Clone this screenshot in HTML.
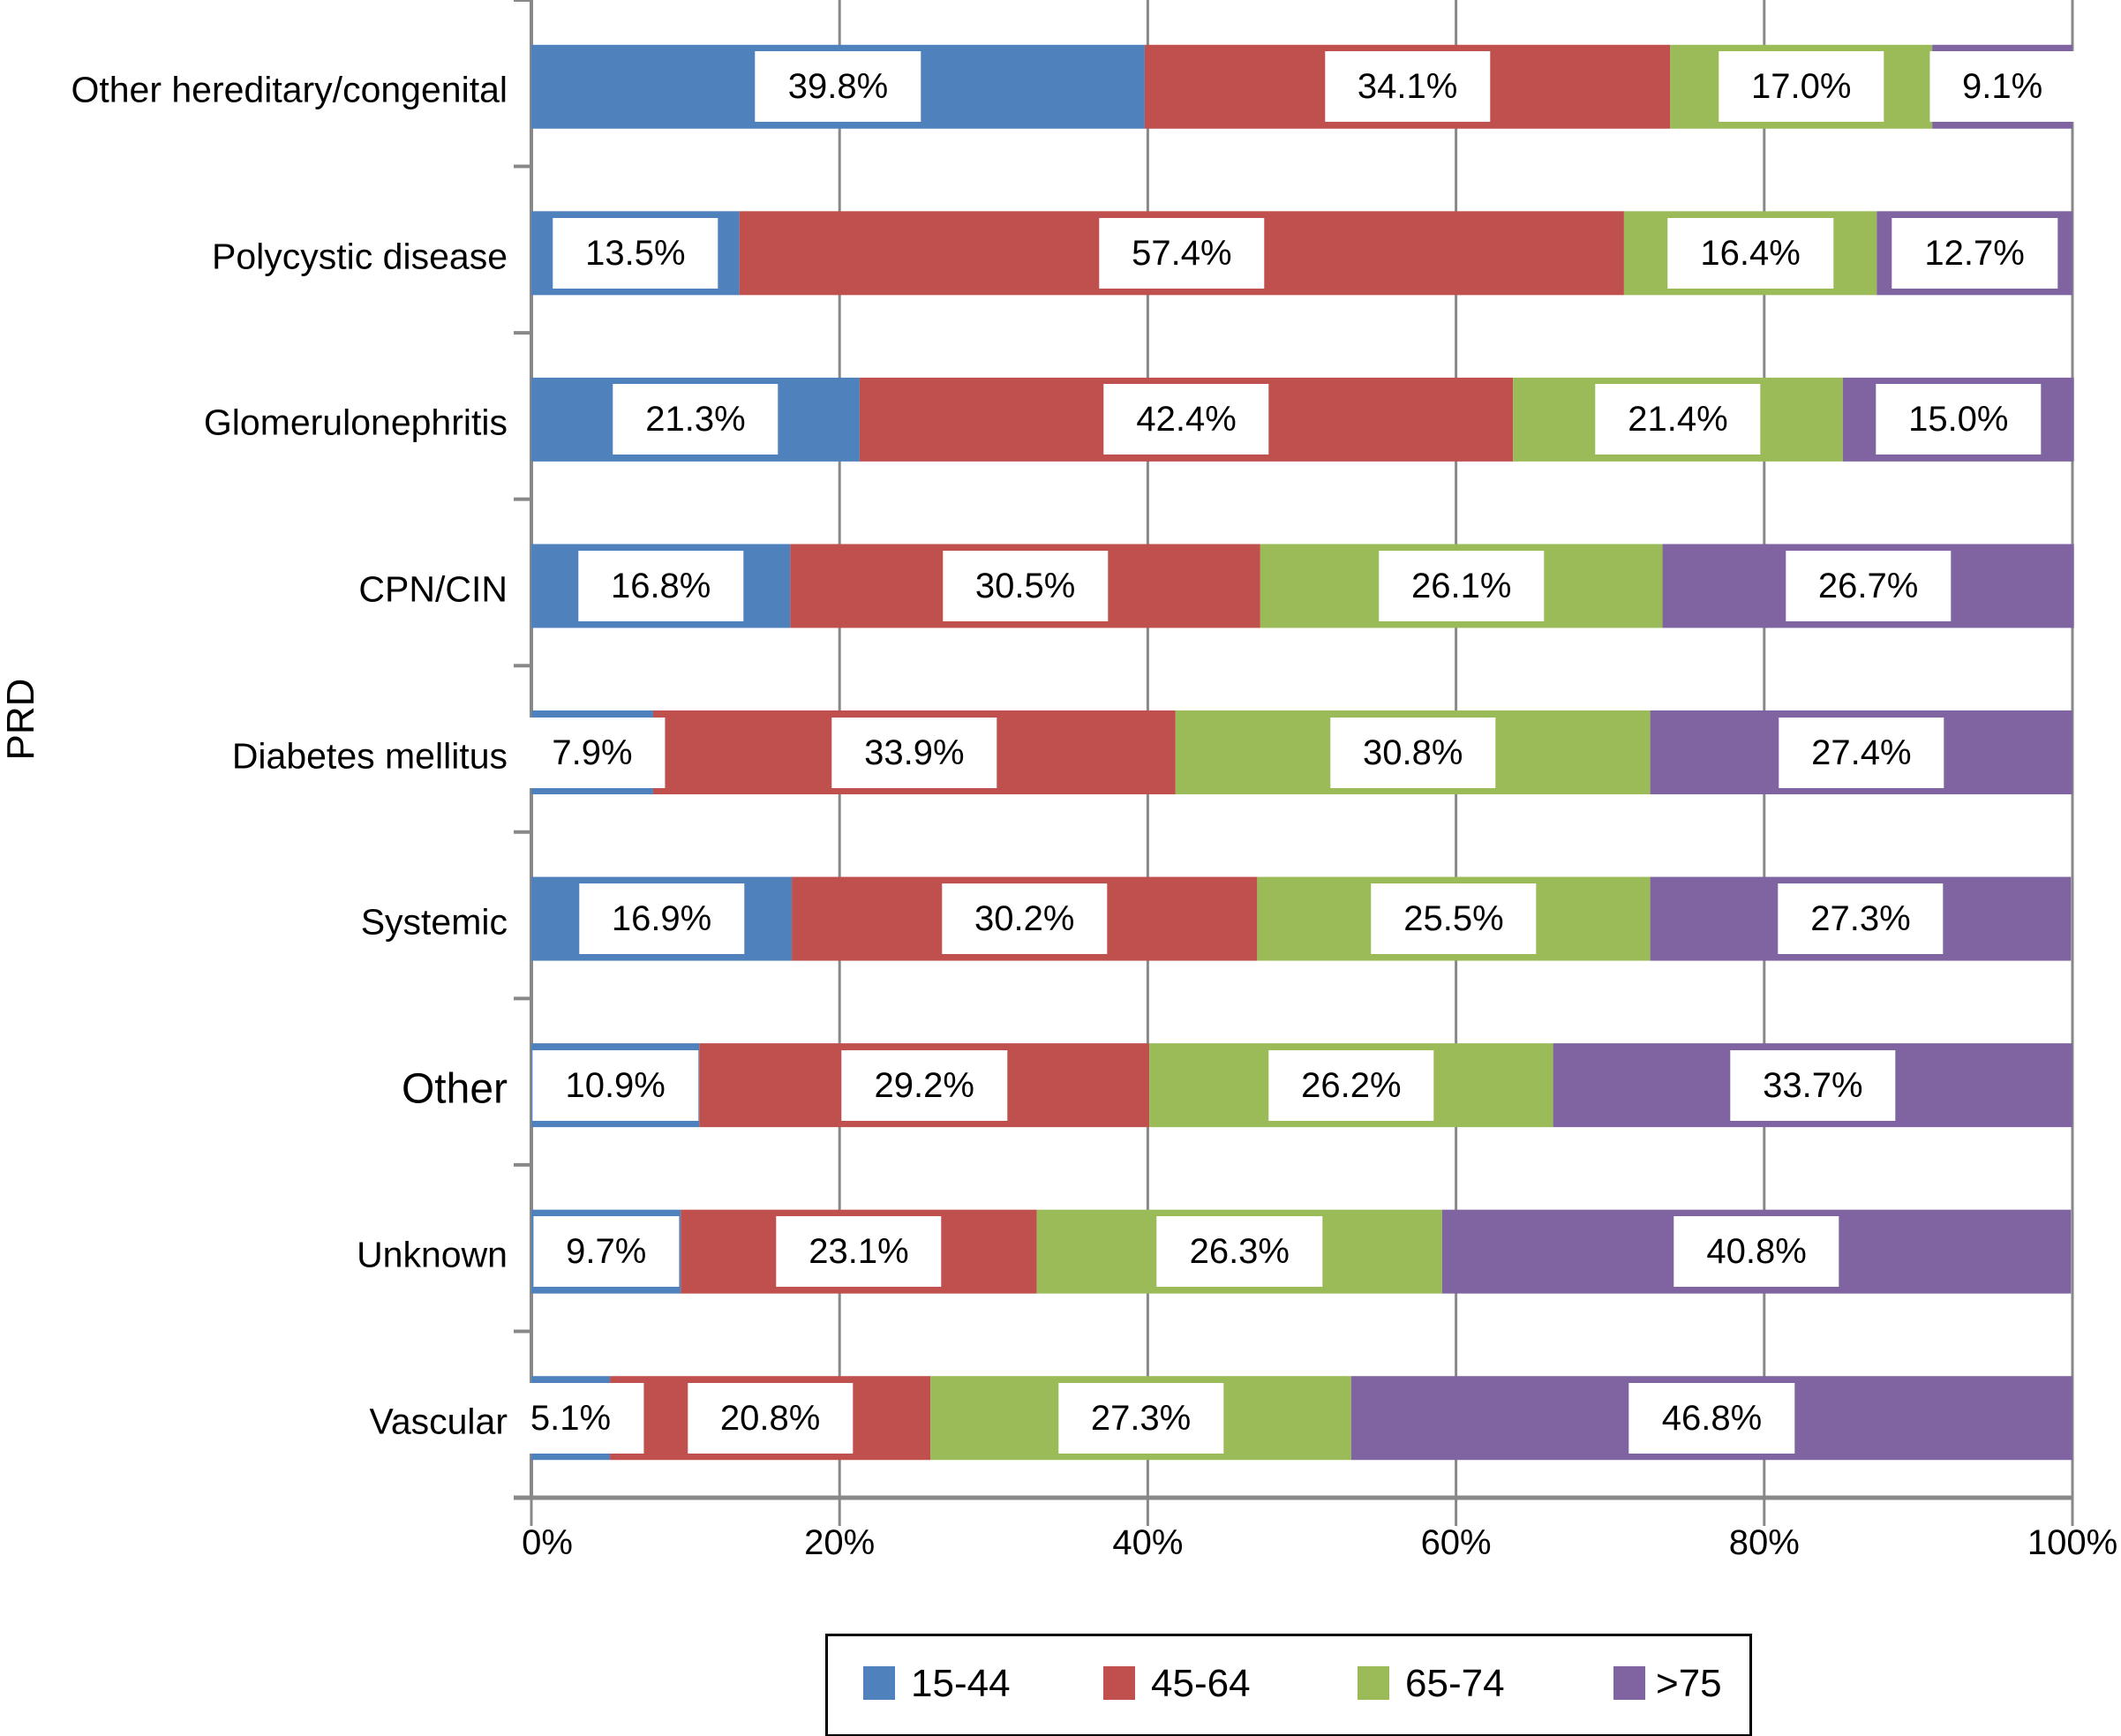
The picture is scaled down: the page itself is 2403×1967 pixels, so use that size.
<!DOCTYPE html>
<html><head><meta charset="utf-8">
<style>
html,body{margin:0;padding:0;background:#fff;}
#chart{position:relative;width:2403px;height:1967px;overflow:hidden;font-family:"Liberation Sans",sans-serif;color:#000;}
.lbl{position:absolute;background:#fff;height:80px;line-height:80px;font-size:40px;padding:0 37px;transform:translateX(-50%);white-space:nowrap;}
.cat{position:absolute;right:1828px;font-size:41px;white-space:nowrap;transform:translateY(-50%);}
.tick{position:absolute;top:1726px;font-size:40px;transform:translateX(-50%);}
</style></head>
<body>
<div id="chart">
<svg id="svg" width="2403" height="1967" style="position:absolute;left:0;top:0"></svg>
<div style="position:absolute;left:24px;top:815px;font-size:44px;transform:translate(-50%,-50%) rotate(-90deg);">PRD</div>
<div style="position:absolute;left:935px;top:1851px;width:1044px;height:111px;border:3px solid #000;">
  <div style="position:absolute;left:40px;top:34px;font-size:44px;line-height:40px;"><span style="display:inline-block;width:36px;height:38px;background:#4f81bd;vertical-align:top;margin-right:18px"></span>15-44</div>
  <div style="position:absolute;left:312px;top:34px;font-size:44px;line-height:40px;"><span style="display:inline-block;width:36px;height:38px;background:#c0504d;vertical-align:top;margin-right:18px"></span>45-64</div>
  <div style="position:absolute;left:600px;top:34px;font-size:44px;line-height:40px;"><span style="display:inline-block;width:36px;height:38px;background:#9bbb59;vertical-align:top;margin-right:18px"></span>65-74</div>
  <div style="position:absolute;left:890px;top:34px;font-size:44px;line-height:40px;"><span style="display:inline-block;width:36px;height:38px;background:#8064a2;vertical-align:top;margin-right:12px"></span>&gt;75</div>
</div>
</div>
<script>
const categories = ["Other hereditary/congenital","Polycystic disease","Glomerulonephritis","CPN/CIN","Diabetes mellitus","Systemic","Other","Unknown","Vascular"];
const s1544 = [39.8,13.5,21.3,16.8,7.9,16.9,10.9,9.7,5.1];
const s4564 = [34.1,57.4,42.4,30.5,33.9,30.2,29.2,23.1,20.8];
const s6574 = [17.0,16.4,21.4,26.1,30.8,25.5,26.2,26.3,27.3];
const s75 = [9.1,12.7,15.0,26.7,27.4,27.3,33.7,40.8,46.8];
const seriesNames = ["15-44","45-64","65-74","over-75"];
const xTicks = [0,20,40,60,80,100];

const colors = ["#4f81bd","#c0504d","#9bbb59","#8064a2"];
const X0=602, X1=2348, Y0=0, Y1=1697;
const band=(Y1-Y0)/categories.length;
const xs=v=>X0+(X1-X0)*v/100;
const yc=i=>Y0+band*(i+0.5)+4;
const svg=document.getElementById('svg');
const chart=document.getElementById('chart');
const NS="http://www.w3.org/2000/svg";
function mk(tag,attrs){const e=document.createElementNS(NS,tag);for(const k in attrs)e.setAttribute(k,attrs[k]);svg.appendChild(e);return e;}
xTicks.forEach(t=>{
  const g=mk('line',{x1:xs(t),x2:xs(t),y1:Y0,y2:Y1+32,stroke:'#888','stroke-width':3});
  
  
  const d=document.createElement('div');d.className='tick';d.style.left=(xs(t)+(t===0?18:0))+'px';d.textContent=t+'%';
  
  
  chart.appendChild(d);
});
const ya=mk('line',{x1:X0,x2:X0,y1:Y0,y2:Y1,stroke:'#888','stroke-width':4});


for(let i=0;i<=categories.length;i++){
  const t=mk('line',{x1:X0-20,x2:X0,y1:Y0+band*i,y2:Y0+band*i,stroke:'#888','stroke-width':4});
  
  
}
const xa=mk('line',{x1:X0-20,x2:X1,y1:Y1,y2:Y1,stroke:'#888','stroke-width':5});


const all=[s1544,s4564,s6574,s75];
const bh=95;
categories.forEach((c,i)=>{
  let acc=0;
  all.forEach((s,j)=>{
    const v=s[i];
    const r=mk('rect',{x:xs(acc),y:yc(i)-bh/2,width:xs(acc+v)-xs(acc),height:bh,fill:colors[j]});
    
    
    const l=document.createElement('div');l.className='lbl';
    l.style.left=xs(acc+v/2)+'px';l.style.top=(yc(i)-40)+'px';
    l.textContent=v.toFixed(1)+'%';
    
    
    chart.appendChild(l);
    acc+=v;
  });
  const d=document.createElement('div');d.className='cat';
  d.style.top=(yc(i)+4)+'px';d.textContent=c;
  if(c==="Other")d.style.fontSize='48px';
  
  
  chart.appendChild(d);
});
</script>
</body></html>
